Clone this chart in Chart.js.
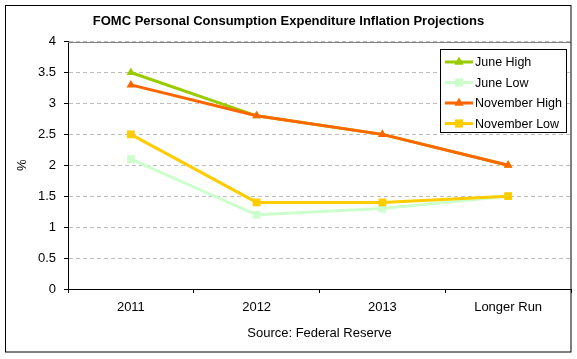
<!DOCTYPE html>
<html>
<head>
<meta charset="utf-8">
<script src="https://cdn.jsdelivr.net/npm/chart.js@4/dist/chart.umd.min.js"></script>
<style>
html,body{margin:0;padding:0;background:#fff;}
#wrap{width:577px;height:359px;position:relative;}
</style>
</head>
<body>
<div id="wrap"><canvas id="c" width="577" height="359"></canvas></div>
<script>
const categories = ["2011", "2012", "2013", "Longer Run"];
const juneHigh = [3.5, 2.8, 2.5, 2.0];
const juneLow = [2.1, 1.2, 1.3, 1.5];
const novemberHigh = [3.3, 2.8, 2.5, 2.0];
const novemberLow = [2.5, 1.4, 1.4, 1.5];
const seriesNames = ["June High", "June Low", "November High", "November Low"];
const yTicks = [0, 0.5, 1, 1.5, 2, 2.5, 3, 3.5, 4];
const titleText = "FOMC Personal Consumption Expenditure Inflation Projections";
const xTitle = "Source: Federal Reserve";
const yTitle = "%";

const FONT = "'Liberation Sans', Arial, sans-serif";
const colors = ["#99CC00", "#CCFFCC", "#FF6600", "#FFCC00"];
const shapes = ["triangle", "rect", "triangle", "rect"];
const radii = [5, 5.5, 5, 5.5];
const seriesData = [juneHigh, juneLow, novemberHigh, novemberLow];

const datasets = seriesData.map((d, i) => ({
  label: seriesNames[i],
  data: d,
  borderColor: colors[i],
  backgroundColor: colors[i],
  borderWidth: 3,
  pointStyle: shapes[i],
  pointRadius: radii[i],
  pointBorderWidth: 0,
  pointBackgroundColor: colors[i],
  tension: 0,
  order: i < 2 ? 2 : 1
}));

const framePlugin = {
  id: 'frame',
  beforeDraw(chart) {
    const ctx = chart.ctx;
    ctx.save();
    ctx.fillStyle = '#fff';
    ctx.fillRect(0, 0, chart.width, chart.height);
    ctx.restore();
  },
  afterDatasetsDraw(chart) {
    const ctx = chart.ctx, a = chart.chartArea;
    ctx.save();
    ctx.strokeStyle = '#808080';
    ctx.lineWidth = 1;
    ctx.beginPath();
    ctx.moveTo(a.left, Math.round(a.top) + 0.5);
    ctx.lineTo(a.right, Math.round(a.top) + 0.5);
    ctx.stroke();
    ctx.restore();
  },
  afterDraw(chart) {
    const ctx = chart.ctx;
    ctx.save();
    // legend
    const lx = 440, ly = 49, lw = 126, lh = 83;
    ctx.fillStyle = '#fff';
    ctx.fillRect(lx, ly, lw, lh);
    ctx.strokeStyle = '#000';
    ctx.lineWidth = 1;
    ctx.strokeRect(lx + 0.5, ly + 0.5, lw, lh);
    const rows = [62, 82.5, 103, 123.5];
    chart.data.datasets.forEach((ds, i) => {
      const y = rows[i];
      ctx.strokeStyle = ds.borderColor;
      ctx.lineWidth = 3;
      ctx.beginPath();
      ctx.moveTo(445, y);
      ctx.lineTo(473, y);
      ctx.stroke();
      ctx.fillStyle = ds.borderColor;
      Chart.helpers.drawPoint(ctx, {pointStyle: ds.pointStyle, radius: ds.pointRadius, rotation: 0, borderWidth: 0}, 459, y);
      ctx.fill();
      ctx.fillStyle = '#000';
      ctx.font = "12.5px " + FONT;
      ctx.textBaseline = 'middle';
      ctx.textAlign = 'left';
      ctx.fillText(ds.label, 475, y + 1);
    });
    // outer border
    ctx.strokeStyle = '#000';
    ctx.lineWidth = 1;
    ctx.strokeRect(5.5, 5.5, 565.5, 346.5);
    ctx.restore();
  }
};

new Chart(document.getElementById('c'), {
  type: 'line',
  data: { labels: categories, datasets },
  options: {
    responsive: false,
    animation: false,
    layout: { padding: { left: 6, right: 6, top: 0, bottom: 7 } },
    plugins: {
      legend: { display: false },
      tooltip: { enabled: false },
      title: {
        display: true,
        text: titleText,
        color: '#000',
        font: { family: FONT, size: 13, weight: 'bold' },
        padding: { top: 14, bottom: 12 }
      }
    },
    scales: {
      x: {
        offset: true,
        afterFit(s) { s.height = 63; },
        grid: { display: true, drawOnChartArea: false, drawTicks: true, tickLength: 4, tickColor: '#000', offset: true },
        border: { display: true, color: '#000', width: 1 },
        ticks: { color: '#000', font: { family: FONT, size: 13 }, padding: 7, maxRotation: 0 },
        title: { display: true, text: xTitle, color: '#000', font: { family: FONT, size: 13 }, padding: { top: 0, bottom: 11 } }
      },
      y: {
        min: 0, max: 4,
        afterFit(s) { s.width = 62; },
        afterBuildTicks(s) { s.ticks = yTicks.map(v => ({ value: v })); },
        grid: { color: '#BEBEBE', lineWidth: 1, drawTicks: true, tickLength: 4, tickColor: '#000', tickBorderDash: [] },
        border: { display: true, color: '#000', width: 1, dash: [4, 3] },
        ticks: { color: '#000', font: { family: FONT, size: 13 }, padding: 8, callback: v => String(v) },
        title: { display: true, text: yTitle, color: '#000', font: { family: FONT, size: 13 }, padding: { top: 9, bottom: 0 } }
      }
    }
  },
  plugins: [framePlugin]
});
</script>
</body>
</html>
